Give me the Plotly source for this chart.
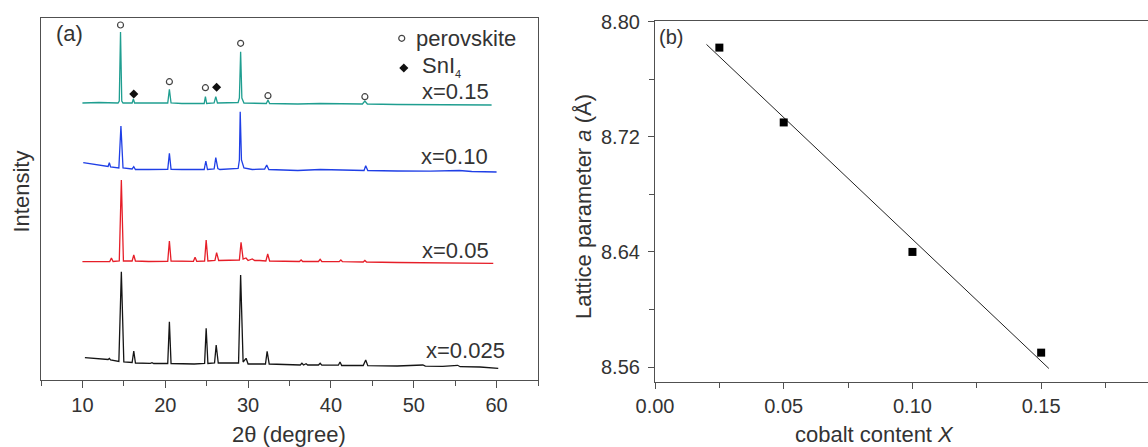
import numpy as np
import plotly.graph_objects as go

# ---------------- Panel (a): XRD patterns (2theta, stacked intensity) ----------------
tt_015 = [10.0, 12.0, 14.3, 14.45, 14.6, 14.75, 14.9, 16.0, 16.15, 16.3, 18.0, 20.3, 20.5, 20.7,
          22.0, 24.7, 24.85, 25.0, 25.9, 26.1, 26.3, 28.8, 28.95, 29.1, 29.25, 29.5, 32.2, 32.4,
          32.6, 36.0, 38.7, 41.0, 43.8, 44.1, 44.4, 48.0, 52.0, 56.0, 59.4]
I_015 = [277, 277.5, 277, 279, 348, 279, 277, 277, 281, 277, 277, 277, 290.7, 277,
         276.5, 276.5, 283.3, 276.5, 277, 283.3, 277, 277.5, 282, 328.3, 282, 277, 276.5, 280,
         276.5, 276, 276.5, 276, 276, 279, 276, 275.5, 275.5, 275.2, 275]

tt_010 = [10.1, 12.0, 13.1, 13.25, 13.4, 14.4, 14.65, 14.9, 16.0, 16.2, 16.4, 18.0, 20.3, 20.5,
          20.7, 22.0, 24.7, 24.9, 25.1, 25.9, 26.1, 26.35, 26.6, 28.8, 28.95, 29.05, 29.2, 29.5,
          30.5, 32.0, 32.25, 32.5, 34.0, 36.0, 38.7, 41.0, 44.0, 44.2, 44.45, 48.0, 52.0, 55.5,
          57.0, 60.0]
I_010 = [217.3, 215, 213.5, 217.3, 213, 212, 254, 212, 211, 213.3, 210.5, 210.5, 210.7, 226.7,
         210.7, 210.5, 210.5, 219, 210.5, 211, 222.3, 211.5, 210.5, 211.5, 220, 268.3, 220, 212,
         210.5, 211, 215, 210.5, 210, 209.5, 210.5, 209.8, 209.5, 214.3, 209.5, 209, 208.8, 209.5,
         208.5, 208]

tt_005 = [10.0, 13.3, 13.5, 13.7, 14.45, 14.7, 14.95, 16.0, 16.2, 16.4, 18.0, 20.3, 20.5, 20.7,
          23.4, 23.6, 23.8, 24.75, 24.94, 25.15, 26.0, 26.2, 26.45, 28.95, 29.15, 29.4, 29.75,
          30.0, 30.5, 30.8, 31.4, 32.15, 32.37, 32.6, 36.2, 36.4, 36.6, 38.5, 38.7, 38.9, 41.0,
          41.2, 41.4, 43.9, 44.1, 44.3, 48.0, 52.0, 56.0, 59.6]
I_005 = [118.3, 118.5, 122, 118.5, 119, 200, 119, 119, 125, 119, 118.5, 118.7, 139, 119,
         118.7, 122.7, 118.7, 119, 140, 119, 119.5, 127.3, 119.5, 120, 137.7, 121, 122,
         119.5, 121, 119.5, 119.5, 119, 126, 119, 118.5, 120, 118.5, 118.5, 120.7, 118.5, 118.3,
         120, 118.3, 118, 119.5, 118, 117.5, 117.3, 117, 116.7]

tt_0025 = [10.3, 12.0, 13.1, 13.25, 13.4, 14.4, 14.7, 15.0, 16.0, 16.2, 16.4, 18.2, 18.4, 18.6,
           20.3, 20.5, 20.7, 23.5, 24.75, 24.94, 25.15, 25.95, 26.15, 26.4, 28.85, 29.1, 29.4,
           29.76, 30.0, 32.1, 32.3, 32.55, 36.3, 36.5, 36.7, 37.0, 37.2, 38.5, 38.7, 38.9, 40.9,
           41.1, 41.3, 43.9, 44.2, 44.45, 48.0, 51.1, 51.4, 53.5, 55.3, 55.6, 58.0, 60.2]
I_0025 = [22.3, 21.5, 20.5, 21.5, 20, 18.5, 108.3, 18, 17.5, 29, 17, 16.7, 17.3, 16.5,
          16.5, 58.3, 16.5, 16, 16.5, 51.7, 16.5, 17, 35, 17, 17, 105, 18,
          21.7, 16, 16, 28.7, 16, 15, 16.7, 15, 16.3, 15, 15, 16.7, 14.8, 14.8,
          18, 14.5, 14.5, 20, 14.3, 14, 15, 13.8, 13.7, 14.7, 13.3, 13, 11.7]

sample_labels = ["x=0.15", "x=0.10", "x=0.05", "x=0.025"]
label_tt = [50.84, 50.8, 50.84, 51.3]
label_I = [288.3, 223.3, 129.3, 30.0]
colors = ["#1f9e90", "#1f3fe6", "#e61e28", "#151515"]

# phase markers on the x=0.15 pattern
perov_tt = [14.6, 20.5, 24.85, 29.1, 32.4, 44.1]
perov_I = [355, 298.3, 292.3, 336.7, 284.3, 283.3]
sni4_tt = [16.2, 26.2]
sni4_I = [286, 292.7]

# ---------------- Panel (b): lattice parameter ----------------
cobalt_x = [0.025, 0.05, 0.10, 0.15]
lattice_a = [8.782, 8.730, 8.640, 8.570]
fit_span = [0.02, 0.153]

W, H = 1148, 447
FONT = "Liberation Sans, Arial, sans-serif"
TXT = "#333333"
AX = "#505050"

def px(v):
    return v / W

def py(v):
    return (H - v) / H

fig = go.Figure()

xs = [tt_015, tt_010, tt_005, tt_0025]
ys = [I_015, I_010, I_005, I_0025]
for t, i, c in zip(xs, ys, colors):
    fig.add_trace(go.Scatter(x=t, y=i, mode="lines", line=dict(color=c, width=1.3),
                             xaxis="x", yaxis="y", showlegend=False, hoverinfo="skip"))

fig.add_trace(go.Scatter(x=perov_tt, y=perov_I, mode="markers",
                         marker=dict(symbol="circle-open", size=6, color="#444", line=dict(width=1.2)),
                         xaxis="x", yaxis="y", showlegend=False))
fig.add_trace(go.Scatter(x=sni4_tt, y=sni4_I, mode="markers",
                         marker=dict(symbol="diamond", size=7, color="#111"),
                         xaxis="x", yaxis="y", showlegend=False))
# key symbols
fig.add_trace(go.Scatter(x=[48.55], y=[341.7], mode="markers",
                         marker=dict(symbol="circle-open", size=6, color="#444", line=dict(width=1.2)),
                         xaxis="x", yaxis="y", showlegend=False))
fig.add_trace(go.Scatter(x=[48.8], y=[312], mode="markers",
                         marker=dict(symbol="diamond", size=7, color="#111"),
                         xaxis="x", yaxis="y", showlegend=False))

# panel b
coef = np.polyfit(cobalt_x, lattice_a, 1)
fit_y = np.polyval(coef, fit_span)
fig.add_trace(go.Scatter(x=fit_span, y=fit_y, mode="lines", line=dict(color="#222", width=1),
                         xaxis="x2", yaxis="y2", showlegend=False))
fig.add_trace(go.Scatter(x=cobalt_x, y=lattice_a, mode="markers",
                         marker=dict(symbol="square", size=8, color="#000"),
                         xaxis="x2", yaxis="y2", showlegend=False))

tickfont = dict(family=FONT, size=20, color=TXT)
fig.update_layout(
    width=W, height=H,
    margin=dict(l=0, r=0, t=0, b=0),
    paper_bgcolor="white", plot_bgcolor="white",
    xaxis=dict(domain=[px(41), px(538)], range=[5, 65], dtick=10, tick0=0,
               showline=True, linecolor=AX, linewidth=1.2, mirror=True,
               ticks="outside", ticklen=7, tickcolor=AX, tickwidth=1.2,
               minor=dict(dtick=5, tick0=0, ticks="outside", ticklen=5, tickcolor=AX, tickwidth=1.2),
               showgrid=False, zeroline=False, tickfont=tickfont, anchor="y", automargin=False),
    yaxis=dict(domain=[py(380), py(18)], range=[0, 362], showline=True, linecolor=AX,
               linewidth=1.2, mirror=True, ticks="", showticklabels=False,
               showgrid=False, zeroline=False, anchor="x", automargin=False),
    xaxis2=dict(domain=[px(655), 1.0], range=[0, 0.1915], dtick=0.05, tick0=0, tickformat=".2f",
                showline=True, linecolor=AX, linewidth=1.2, mirror=True,
                ticks="outside", ticklen=6, tickcolor=AX, tickwidth=1.2,
                minor=dict(dtick=0.025, tick0=0, ticks="outside", ticklen=5, tickcolor=AX, tickwidth=1.2),
                showgrid=False, zeroline=False, tickfont=tickfont, anchor="y2", automargin=False),
    yaxis2=dict(domain=[py(382), py(21)], range=[8.5496, 8.8005], dtick=0.08, tick0=8.56,
                tickformat=".2f", showline=True, linecolor=AX, linewidth=1.2, mirror=False,
                ticks="outside", ticklen=6, tickcolor=AX, tickwidth=1.2, ticklabelstandoff=4,
                minor=dict(dtick=0.04, tick0=8.56, ticks="outside", ticklen=5, tickcolor=AX, tickwidth=1.2),
                showgrid=False, zeroline=False, tickfont=tickfont, anchor="x2", automargin=False),
)

ann_font = dict(family=FONT, size=22, color=TXT)
anns = []
for lab, lx, ly in zip(sample_labels, label_tt, label_I):
    anns.append(dict(x=lx, y=ly, xref="x", yref="y", text=lab, showarrow=False,
                     xanchor="left", yanchor="middle", font=ann_font, borderpad=0))
anns += [
    dict(x=50.1, y=342, xref="x", yref="y", text="perovskite", showarrow=False,
         xanchor="left", yanchor="middle", font=ann_font, borderpad=0),
    dict(x=50.9, y=314, xref="x", yref="y",
         text="SnI<sub><span style='font-size:11px'>4</span></sub>", showarrow=False,
         xanchor="left", yanchor="middle", font=ann_font, borderpad=0),
    dict(x=px(54), y=py(33), xref="paper", yref="paper", text="(a)", showarrow=False,
         xanchor="left", yanchor="middle", font=ann_font),
    dict(x=px(657), y=py(37), xref="paper", yref="paper", text="(b)", showarrow=False,
         xanchor="left", yanchor="middle", font=dict(family=FONT, size=20, color=TXT)),
    dict(x=px(20.5), y=py(192), xref="paper", yref="paper", text="Intensity", showarrow=False,
         textangle=-90, xanchor="center", yanchor="middle", font=ann_font),
    dict(x=px(289), y=py(434), xref="paper", yref="paper", text="2θ (degree)", showarrow=False,
         xanchor="center", yanchor="middle", font=ann_font),
    dict(x=px(583), y=py(207), xref="paper", yref="paper",
         text="Lattice parameter <i>a</i> (Å)", showarrow=False,
         textangle=-90, xanchor="center", yanchor="middle", font=ann_font),
    dict(x=px(874), y=py(434), xref="paper", yref="paper", text="cobalt content <i>X</i>",
         showarrow=False, xanchor="center", yanchor="middle", font=ann_font),
]
fig.update_layout(annotations=anns)

fig.write_html("out.html", config={"displayModeBar": False},
               post_script="document.body.style.margin='0';document.body.style.overflow='hidden';")
